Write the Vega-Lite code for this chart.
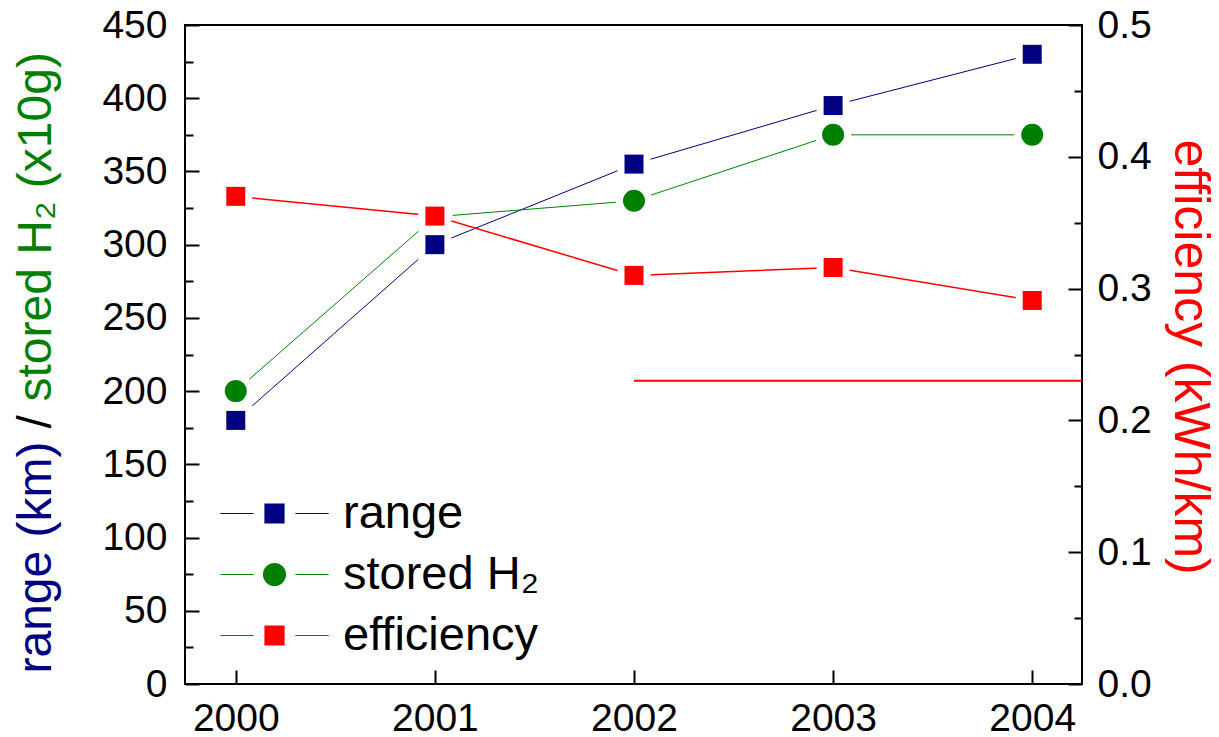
{
  "$schema": "https://vega.github.io/schema/vega-lite/v6.json",
  "width": 897,
  "height": 659,
  "autosize": "none",
  "padding": {"left": 185, "top": 25, "right": 137, "bottom": 53},
  "background": "white",
  "config": {
    "view": {"stroke": "black", "strokeWidth": 2},
    "font": "Liberation Sans",
    "axis": {
      "grid": false,
      "domain": false,
      "labelFont": "Liberation Sans",
      "labelFontSize": 39,
      "labelColor": "black",
      "labelOverlap": false,
      "tickColor": "black",
      "tickWidth": 2,
      "titleFont": "Liberation Sans",
      "titleFontWeight": "normal"
    }
  },
  "datasets": {
    "series": [
      {"year": 2000, "series": "range", "value": 180},
      {"year": 2001, "series": "range", "value": 300},
      {"year": 2002, "series": "range", "value": 355},
      {"year": 2003, "series": "range", "value": 395},
      {"year": 2004, "series": "range", "value": 430},
      {"year": 2000, "series": "stored H₂", "value": 200},
      {"year": 2001, "series": "stored H₂", "value": 319},
      {"year": 2002, "series": "stored H₂", "value": 330},
      {"year": 2003, "series": "stored H₂", "value": 375},
      {"year": 2004, "series": "stored H₂", "value": 375},
      {"year": 2000, "series": "efficiency", "value": 0.370},
      {"year": 2001, "series": "efficiency", "value": 0.355},
      {"year": 2002, "series": "efficiency", "value": 0.310},
      {"year": 2003, "series": "efficiency", "value": 0.316},
      {"year": 2004, "series": "efficiency", "value": 0.291}
    ],
    "target": [{"x": 2002, "x2": 2004.25, "y": 0.23}]
  },
  "layer": [
    {
      "data": {"name": "series"},
      "transform": [{"filter": "datum.series === 'range'"}],
      "encoding": {
        "x": {
          "field": "year", "type": "quantitative",
          "scale": {"domain": [1999.745, 2004.25], "nice": false, "zero": false},
          "axis": {"orient": "bottom", "values": [2000, 2001, 2002, 2003, 2004], "format": "d", "tickSize": -14, "labelPadding": 29, "title": null}
        },
        "y": {
          "field": "value", "type": "quantitative",
          "scale": {"domain": [0, 450], "nice": false},
          "axis": {
            "orient": "left", "values": [0, 50, 100, 150, 200, 250, 300, 350, 400, 450],
            "tickSize": -14, "labelPadding": 32,
            "title": "range (km)", "titleColor": "#000080", "titleFontSize": 48,
            "titleAngle": -90, "titleX": -135, "titleY": 648, "titleAlign": "left", "titleBaseline": "alphabetic"
          }
        },
        "color": {
          "field": "series", "type": "nominal",
          "scale": {"domain": ["range", "stored H₂", "efficiency"], "range": ["#000080", "#008000", "#ff0000"]},
          "legend": {
            "orient": "none", "legendX": 66, "legendY": 465, "title": null, "padding": 0,
            "labelFontSize": 47, "labelFont": "Liberation Sans", "labelColor": "black",
            "labelOffset": 45, "rowPadding": 13, "symbolSize": 361, "labelLimit": 0,
            "encoding": {
              "symbols": {
                "shape": {"value": {"expr": "datum.value === 'stored H₂' ? 'M-5.7,0H-2.2M2.2,0H5.7M1.15,0A1.15,1.15,0,1,1,-1.15,0A1.15,1.15,0,1,1,1.15,0Z' : 'M-5.7,0H-2.2M2.2,0H5.7M-1,-1H1V1H-1Z'"}},
                "fill": {"value": {"expr": "datum.value === 'range' ? '#000080' : datum.value === 'efficiency' ? '#ff0000' : '#008000'"}},
                "stroke": {"value": {"expr": "datum.value === 'range' ? '#000080' : datum.value === 'efficiency' ? '#ff0000' : '#008000'"}},
                "strokeWidth": {"value": 1.2},
                "opacity": {"value": 1}
              }
            }
          }
        }
      },
      "layer": [
        {"mark": {"type": "line", "strokeWidth": 1}},
        {"mark": {"type": "point", "shape": "square", "filled": true, "size": 1089, "opacity": 1}, "encoding": {"color": {"value": "white"}}},
        {"mark": {"type": "point", "shape": "square", "filled": true, "size": 361, "opacity": 1}}
      ]
    },
    {
      "data": {"name": "series"},
      "transform": [{"filter": "datum.series === 'stored H₂'"}],
      "encoding": {
        "x": {
          "field": "year", "type": "quantitative",
          "scale": {"domain": [1999.745, 2004.25], "nice": false, "zero": false},
          "axis": null
        },
        "y": {
          "field": "value", "type": "quantitative",
          "scale": {"domain": [0, 450], "nice": false},
          "axis": {
            "orient": "left", "values": [25, 75, 125, 175, 225, 275, 325, 375, 425],
            "tickSize": -8, "labels": false,
            "title": "stored H₂ (x10g)", "titleColor": "#008000", "titleFontSize": 48,
            "titleAngle": -90, "titleX": -135, "titleY": 376, "titleAlign": "left", "titleBaseline": "alphabetic"
          }
        },
        "color": {"field": "series", "type": "nominal"}
      },
      "layer": [
        {"mark": {"type": "line", "strokeWidth": 1}},
        {"mark": {"type": "point", "shape": "circle", "filled": true, "size": 1296, "opacity": 1}, "encoding": {"color": {"value": "white"}}},
        {"mark": {"type": "point", "shape": "circle", "filled": true, "size": 484, "opacity": 1}}
      ]
    },
    {
      "data": {"name": "series"},
      "transform": [{"filter": "datum.series === 'efficiency'"}],
      "encoding": {
        "x": {
          "field": "year", "type": "quantitative",
          "scale": {"domain": [1999.745, 2004.25], "nice": false, "zero": false},
          "axis": null
        },
        "y": {
          "field": "value", "type": "quantitative",
          "scale": {"domain": [0, 0.5], "nice": false},
          "axis": {
            "orient": "right", "values": [0, 0.1, 0.2, 0.3, 0.4, 0.5], "format": ".1f",
            "tickSize": -14, "labelPadding": 29,
            "title": "efficiency (kWh/km)", "titleColor": "#ff0000", "titleFontSize": 50,
            "titleAngle": 90, "titleX": 92, "titleY": 114, "titleAlign": "left", "titleBaseline": "alphabetic"
          }
        },
        "color": {"field": "series", "type": "nominal"}
      },
      "layer": [
        {"mark": {"type": "line", "strokeWidth": 1.5}},
        {"mark": {"type": "point", "shape": "square", "filled": true, "size": 1089, "opacity": 1}, "encoding": {"color": {"value": "white"}}},
        {"mark": {"type": "point", "shape": "square", "filled": true, "size": 361, "opacity": 1}}
      ]
    },
    {
      "data": {"name": "target"},
      "mark": {"type": "rule", "color": "#ff0000", "strokeWidth": 2, "clip": true},
      "encoding": {
        "x": {
          "field": "x", "type": "quantitative",
          "scale": {"domain": [1999.745, 2004.25], "nice": false, "zero": false},
          "axis": {
            "orient": "bottom", "labels": false, "ticks": false, "domain": false,
            "title": "/", "titleColor": "black", "titleFontSize": 48,
            "titleAngle": -90, "titleX": -135, "titleY": -256, "titleAlign": "left", "titleBaseline": "alphabetic"
          }
        },
        "x2": {"field": "x2"},
        "y": {
          "field": "y", "type": "quantitative",
          "scale": {"domain": [0, 0.5], "nice": false},
          "axis": {
            "orient": "right", "values": [0.05, 0.15, 0.25, 0.35, 0.45],
            "tickSize": -8, "labels": false, "title": null
          }
        }
      }
    }
  ],
  "resolve": {"scale": {"x": "independent", "y": "independent"}}
}
